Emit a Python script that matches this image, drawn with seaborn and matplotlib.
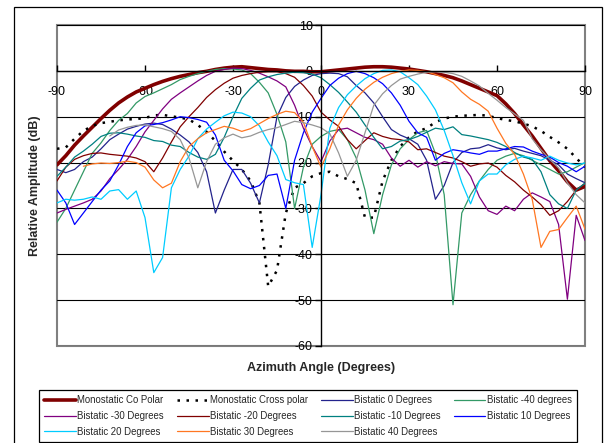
import matplotlib
matplotlib.use("Agg")
import matplotlib.pyplot as plt
import numpy as np
import seaborn as sns
from matplotlib.patches import Rectangle

nan = np.nan

# azimuth angle in degrees, 3 degree steps
angle = np.arange(-90, 91, 3)

co_polar = [
    -20.5, -18.5, -16.2, -14.2, -12.3, -10.4, -8.6, -7.0, -5.7, -4.6,
    -3.8, -3.0, -2.3, -1.7, -1.2, -0.8, -0.4, -0.1, 0.3, 0.6,
    0.8, 0.9, 0.7, 0.5, 0.3, 0.2, 0.0, -0.1, -0.1, -0.2,
    -0.2, 0.0, 0.2, 0.4, 0.6, 0.8, 0.9, 0.9, 0.8, 0.6,
    0.4, 0.1, -0.2, -0.6, -1.0, -1.5, -2.2, -3.0, -3.8, -4.6,
    -5.4, -7.2, -9.3, -11.8, -14.2, -16.9, -19.6, -21.8, -24.2, -26.0,
    -25.2,
]
cross_polar = [
    -17.0, -16.7, -14.8, -13.1, -12.0, -11.4, -11.1, -10.8, -10.6, -10.5,
    -10.3, -9.7, -9.6, -9.9, -10.2, -10.6, -11.8, -13.3, -15.3, -17.6,
    -19.6, -21.5, -24.0, -28.8, -47.0, -43.5, -31.0, -25.5, -24.5, -23.0,
    -22.3, -22.0, -23.0, -23.6, -24.5, -32.0, -32.0, -24.0, -19.5, -16.5,
    -14.5, -13.2, -12.5, -11.2, -10.4, -10.0, -9.8, -9.7, -9.6, -9.8,
    -10.3, -10.7, -11.0, -11.5, -12.1, -13.1, -14.4, -15.6, -17.0, -19.0,
    -21.0,
]
bistatic_0 = [
    -21.5, -22.2, -21.5, -19.8, -18.8, -17.0, -15.0, -13.8, -12.7, -12.1,
    -11.6, -11.4, -11.7, -12.7, -14.0, -15.5, -17.8, -22.0, -31.0, -26.0,
    -21.5, -21.5, -24.5, -28.8, -20.5, -10.0, -5.8, -3.4, -2.0, -1.0,
    -0.6, -0.5, -0.6, -1.3, -3.2, -4.8, -7.0, -10.0, -12.8, -14.0,
    -14.8, -16.0, -19.5, -28.0, -25.0, -20.0, -17.8, -17.0, -16.8, -16.1,
    -16.8, -17.2, -16.9, -17.5, -18.0, -18.5, -19.5, -20.5, -22.5, -23.5,
    -24.4,
]
bistatic_m40 = [
    -33.0, -30.0, -26.0, -22.0, -18.0, -15.7, -13.0, -10.8, -9.3, -7.0,
    -5.6, -4.8, -3.9, -3.0, -1.9, -1.2, -0.6, -0.1, 0.3, 0.5,
    0.4, 0.2, -0.6, -2.5, -4.8, -9.5, -15.5, -30.0, -21.0, -16.0,
    -14.3, -13.2, -12.8, -15.0, -19.0, -26.0, -35.5, -27.0, -20.5, -17.0,
    -15.0, -13.5, -13.0, -18.0, -27.0, -51.0, -31.0, -27.0, -24.0, -21.5,
    -19.5, -18.6, -18.0, -18.5, -19.5, -20.5, -21.5, -22.5, -22.0, -21.0,
    -20.0,
]
bistatic_m30 = [
    -31.0, -30.2, -29.5, -28.8, -28.0, -26.2, -23.5, -21.5, -19.3, -16.5,
    -13.3, -10.8, -8.3, -6.2, -4.8, -3.5, -2.2, -1.0, -0.1, 0.3,
    0.6, 0.5, 0.1, -0.5, -1.3, -2.2, -3.5, -7.5, -12.5, -16.5,
    -19.8, -15.3, -12.8, -12.5, -13.5, -14.5, -15.0, -16.0, -19.0, -20.8,
    -19.5, -21.0, -19.8, -20.7, -19.8, -20.2, -20.3, -23.0, -27.5, -30.5,
    -31.3, -29.5, -30.5, -28.0, -26.6, -27.5, -28.5, -33.5, -49.8, -31.5,
    -37.0,
]
bistatic_m20 = [
    -24.0, -21.0, -19.3, -18.5, -18.0, -17.9, -18.2, -18.4, -18.6, -19.0,
    -19.8, -22.0, -19.0, -15.5, -12.2, -10.0, -8.0, -5.8, -4.1, -2.7,
    -1.6, -1.0, -0.6, -0.3, -0.2, -0.2, -0.6, -1.4, -3.2, -5.5,
    -9.0, -10.7, -12.1, -15.0, -17.0, -15.2, -13.5, -14.3, -14.8, -15.0,
    -15.5, -17.2, -17.0, -17.8, -18.6, -19.0, -19.8, -20.8, -20.3, -20.1,
    -21.0, -22.8, -24.2, -26.0, -27.5, -29.2, -31.5, -30.5, -28.5, -26.0,
    -24.5,
]
bistatic_m10 = [
    -23.0, -21.0, -18.8, -17.5, -16.0, -14.3, -13.6, -13.5, -13.8, -14.2,
    -14.5, -15.2, -15.4, -16.2, -16.5, -17.8, -18.8, -19.3, -18.2, -14.5,
    -10.0, -6.0, -3.8, -2.0, -1.3, -0.8, -0.5, -0.3, -0.4, -0.7,
    -1.5, -3.0, -4.7, -6.8, -9.0, -11.8, -14.5, -17.0, -16.5, -15.3,
    -15.0, -14.3, -13.4, -12.5, -12.8, -12.2, -13.9, -14.2, -14.6, -15.0,
    -15.6, -16.5, -17.8, -18.8, -19.3, -22.0, -27.0, -29.0, -30.0, -26.0,
    -24.5,
]
bistatic_10 = [
    -26.0, -28.8, -33.5, -31.0, -28.5, -26.0, -24.0, -20.5, -16.5, -13.5,
    -12.0, -11.7, -11.3, -10.7, -10.0, -10.2, -10.6, -11.2, -14.0, -19.5,
    -21.8, -24.8, -25.7, -25.0, -22.8, -22.5, -30.0, -19.5, -13.5, -9.0,
    -6.0, -3.2, -1.6, -0.6, -0.1, -0.6, -1.5, -2.8, -4.8, -7.5,
    -11.0, -13.5, -14.5, -19.5, -18.0, -17.2, -17.5, -17.9, -18.2, -17.5,
    -17.5, -17.0, -16.5, -16.6, -17.5, -18.2, -18.8, -20.0, -20.8, -22.0,
    -20.8,
]
bistatic_20 = [
    -28.8, -28.0, -28.2, -28.0, -27.5, -28.0, -26.2, -25.9, -28.0, -26.2,
    -32.0, -44.0, -40.7, -25.5, -21.5, -18.6, -14.8, -12.7, -11.2, -9.8,
    -9.0, -9.2, -10.0, -12.0, -15.5, -18.5, -23.7, -24.4, -24.8, -38.5,
    -27.0, -12.5, -8.0, -5.2, -3.3, -1.7, -0.6, 0.1, 0.2, -0.2,
    -1.5, -3.0, -5.5, -8.5, -13.0, -18.5, -24.4, -29.0, -24.0, -22.5,
    -22.5, -20.5, -19.3, -18.6, -19.0, -19.5, -18.6, -19.5, -20.1, -20.5,
    -20.1,
]
bistatic_30 = [
    nan, nan, nan, -20.8, -20.3, -20.1, -20.2, -20.0, -19.7, -20.0,
    -21.0, -23.8, -25.5, -24.5, -19.8, -16.5, -14.8, -13.5, -12.8, -12.1,
    -12.5, -13.2, -12.6, -11.5, -10.4, -9.5, -8.8, -9.1, -11.2, -16.5,
    -21.0, -17.0, -11.8, -8.5, -6.0, -4.0, -2.5, -1.4, -0.6, -0.1,
    0.2, 0.1, -0.2, -0.8, -1.5, -2.6, -4.6, -6.2, -7.3, -8.8,
    -12.5, -15.8, -18.2, -22.5, -28.0, -38.5, -35.0, -34.6, -32.0, -29.5,
    -34.5,
]
bistatic_40 = [
    nan, nan, nan, nan, nan, nan, -14.2, -12.9, -12.3, -11.9,
    -11.8, -12.2, -12.6, -13.2, -15.0, -19.0, -25.5, -19.8, -16.0, -14.6,
    -13.8, -14.6, -14.2, -13.4, -12.8, -12.4, -11.7, -11.0, -11.3, -11.8,
    -12.4, -13.7, -17.9, -23.0, -19.5, -13.5, -7.5, -5.0, -3.2, -1.8,
    -1.2, -0.7, -0.3, -0.2, -0.3, -0.6, -1.2, -2.2, -3.3, -4.9,
    -6.4, -8.0, -9.4, -10.8, -14.8, -17.2, -19.3, -21.2, -24.4, -27.0,
    -28.8,
]

series_labels = [
    "Monostatic Co Polar", "Monostatic Cross polar", "Bistatic 0 Degrees",
    "Bistatic -40 degrees", "Bistatic -30 Degrees", "Bistatic -20 Degrees",
    "Bistatic -10 Degrees", "Bistatic 10 Degrees", "Bistatic 20 Degrees",
    "Bistatic 30 Degrees", "Bistatic 40 Degrees",
]
series_values = [
    co_polar, cross_polar, bistatic_0, bistatic_m40, bistatic_m30,
    bistatic_m20, bistatic_m10, bistatic_10, bistatic_20, bistatic_30,
    bistatic_40,
]
colors = [
    "#800000", "#000000", "#23238C", "#339966", "#800080", "#800000",
    "#008080", "#0000FF", "#00CCFF", "#FF7722", "#969696",
]

sns.set_style("white")
plt.rcParams["font.family"] = ["Liberation Sans", "DejaVu Sans"]
plt.rcParams["axes.unicode_minus"] = False

fig = plt.figure(figsize=(6.05, 4.43), dpi=100)
ax = fig.add_axes([57 / 605, 1 - 346 / 443, 528 / 605, 321 / 443])

for label, values, color in zip(series_labels, series_values, colors):
    kw = dict(color=color, linewidth=0.9)
    if label == "Monostatic Co Polar":
        kw["linewidth"] = 2.6
    if label == "Monostatic Cross polar":
        kw["linewidth"] = 1.8
        kw["linestyle"] = (0, (1.0, 2.6))
    sns.lineplot(x=angle, y=np.array(values, dtype=float), ax=ax,
                 label=label, **kw)

if ax.get_legend() is not None:
    ax.get_legend().remove()

ax.set_xlim(-90, 90)
ax.set_ylim(-60, 10)
ax.set_xticks(np.arange(-90, 91, 30))
ax.set_yticks(np.arange(-60, 11, 10))
ax.set_xlabel("")
ax.set_ylabel("")

ax.yaxis.grid(True, color="black", linewidth=0.8)
ax.set_axisbelow(True)

for side in ["top", "right"]:
    ax.spines[side].set_visible(False)
ax.spines["left"].set_position(("data", 0))
ax.spines["bottom"].set_position(("data", 0))
for side in ["left", "bottom"]:
    ax.spines[side].set_color("black")
    ax.spines[side].set_linewidth(1.0)

ax.add_patch(Rectangle((0, 0), 1, 1, transform=ax.transAxes, fill=False,
                       edgecolor="#808080", linewidth=1.5, zorder=0.5,
                       clip_on=False))

ax.tick_params(axis="x", direction="in", length=4, width=1, pad=11,
               labelsize=9, colors="black", bottom=True)
ax.tick_params(axis="y", direction="out", length=4, width=1, pad=2,
               labelsize=9, colors="black", left=True)

fig.text(35 / 605, 1 - 186 / 443, "Relative Amplitude (dB)", rotation=90,
         ha="center", va="center", fontsize=9, fontweight="bold")
fig.text(321 / 605, 1 - 368 / 443, "Azimuth Angle (Degrees)",
         ha="center", va="center", fontsize=9, fontweight="bold")

# legend, Excel-style row-wise order in 4 columns
handles, labels = ax.get_legend_handles_labels()
order = [0, 4, 8, 1, 5, 9, 2, 6, 10, 3, 7]
leg = fig.legend([handles[i] for i in order], [labels[i] for i in order],
                 ncol=4, loc="upper left", mode="expand",
                 bbox_to_anchor=(39 / 605, 1 - 442 / 443, 538 / 605, 52 / 443),
                 fontsize=6.9, frameon=True, fancybox=False,
                 edgecolor="black", framealpha=1, handlelength=3.3,
                 handletextpad=0.15, labelspacing=0.6, borderpad=0.55,
                 borderaxespad=0)
leg.get_frame().set_linewidth(0.9)

fig.patches.append(Rectangle((14 / 605, -0.05), (602 - 14) / 605,
                             1 - 7 / 443 + 0.05, transform=fig.transFigure,
                             fill=False, edgecolor="black", linewidth=0.9))

fig.savefig("out.png", dpi=100)
